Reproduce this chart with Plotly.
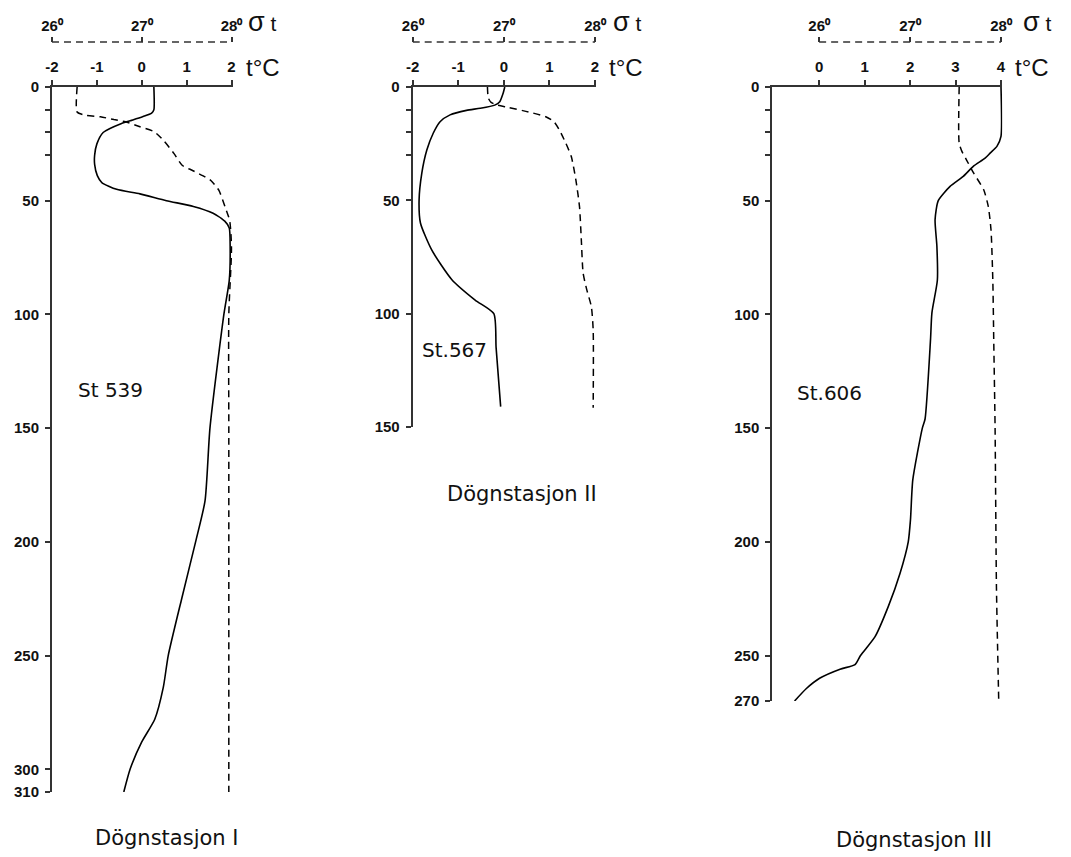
import plotly.graph_objects as go

# The page puts the figure 8 px in from the top-left corner, so the figure is
# 8 px smaller than the window and all pixel positions below are shifted by 8.
OFF = 8
W, H = 1071 - OFF, 857 - OFF

# ---------------- data ----------------
# Station 539 (Døgnstasjon I)
depth_539_t = [0, 10, 11.5, 13, 14.5, 16, 20, 25, 30, 34, 39, 42, 45, 47, 50, 52.5, 55.5, 59, 62, 70, 85, 100, 150, 182, 200, 225, 250, 264, 278, 288, 300, 310]
temp_539 = [0.27, 0.27, 0.22, 0.03, -0.2, -0.45, -0.86, -1.0, -1.05, -1.05, -0.99, -0.89, -0.56, -0.04, 0.55, 1.15, 1.59, 1.85, 1.95, 1.97, 1.95, 1.83, 1.52, 1.41, 1.2, 0.89, 0.59, 0.48, 0.29, 0.0, -0.26, -0.4]
depth_539_s = [0, 11, 12.4, 13.1, 14.3, 15.3, 17.5, 19.7, 23.4, 29.3, 34.4, 36.6, 39.6, 41.1, 45.5, 52.9, 58.8, 70.6, 100, 150, 200, 250, 310]
sigma_539 = [26.28, 26.28, 26.37, 26.54, 26.69, 26.82, 26.98, 27.14, 27.24, 27.36, 27.45, 27.56, 27.71, 27.77, 27.86, 27.93, 27.98, 28.0, 27.97, 27.97, 27.97, 27.97, 27.97]

# Station 567 (Døgnstasjon II)
depth_567_t = [0, 3, 6.5, 8, 9.4, 10.3, 12.3, 15.3, 20.4, 27.8, 38, 50, 60, 72, 85, 94, 100, 115, 141]
temp_567 = [0.02, -0.02, -0.09, -0.2, -0.52, -0.82, -1.18, -1.4, -1.55, -1.69, -1.80, -1.86, -1.83, -1.58, -1.14, -0.63, -0.22, -0.17, -0.07]
depth_567_s = [0, 4.9, 6.8, 7.9, 9.0, 11.0, 13.1, 15.3, 19.0, 24.8, 30.7, 41.0, 52.8, 67.5, 82.2, 89.5, 96.9, 107.2, 141.5]
sigma_567 = [26.82, 26.83, 26.86, 26.92, 27.05, 27.27, 27.46, 27.55, 27.61, 27.68, 27.74, 27.79, 27.83, 27.85, 27.87, 27.91, 27.96, 27.98, 27.98]

# Station 606 (Døgnstasjon III)
depth_606_t = [0, 21.7, 26.1, 29.1, 31.3, 34.9, 39.3, 43.7, 50, 58.4, 70, 85, 99.4, 111, 146, 150, 172.8, 190, 200, 213.8, 228.5, 241.7, 250, 254, 256, 260, 264.5, 270]
temp_606 = [4.0, 4.0, 3.91, 3.76, 3.65, 3.39, 3.17, 2.88, 2.62, 2.55, 2.59, 2.6, 2.48, 2.45, 2.33, 2.27, 2.06, 2.01, 1.96, 1.78, 1.52, 1.23, 0.91, 0.79, 0.46, 0.01, -0.28, -0.54]
depth_606_s = [0, 24.7, 28.3, 32, 37.9, 45.2, 52.5, 62.8, 85, 111, 150, 220, 270]
sigma_606 = [27.54, 27.54, 27.57, 27.62, 27.70, 27.81, 27.86, 27.89, 27.91, 27.92, 27.935, 27.95, 27.975]

t_ticks_a = [-2, -1, 0, 1, 2]
t_ticks_c = [0, 1, 2, 3, 4]
sigma_ticks = [26, 27, 28]
sigma_ticktext = ["26⁰", "27⁰", "28⁰"]
depth_ticks_1 = [0, 10, 20, 30, 50, 100, 150, 200, 250, 300, 310]
depth_ticks_2 = [0, 10, 20, 30, 50, 100, 150]
depth_ticks_3 = [0, 10, 20, 30, 50, 100, 150, 200, 250, 270]
minor_depths = [10, 20, 30]

station_labels = ["St 539", "St.567", "St.606"]
panel_titles = ["Dögnstasjon I", "Dögnstasjon II", "Dögnstasjon III"]

# ---------------- layout geometry (screen pixels) ----------------
def px_x(p):
    return (p - OFF) / W

def px_y(p):
    return 1 - (p - OFF) / H

AX_TOP = 87
SIG_Y = 42
EXT = 0.03  # small extension on the right so edge lines are not clipped
panels = [
    dict(x0=52, x1=231.5, ybot=792, trange=[-2, 2], srange=[26, 28], drange=[310, 0], tticks=t_ticks_a, dticks=depth_ticks_1, sig_dx=14),
    dict(x0=412.7, x1=595, ybot=427, trange=[-2, 2], srange=[26, 28], drange=[150, 0], tticks=t_ticks_a, dticks=depth_ticks_2, sig_dx=16),
    dict(x0=772.3, x1=1001, ybot=701, trange=[-1.03, 4], srange=[25.485, 28], drange=[270, 0], tticks=t_ticks_c, dticks=depth_ticks_3, sig_dx=20),
]

fig = go.Figure()

LINE = dict(color="black", width=1.6)
DASH = dict(color="black", width=1.5, dash="7px,5px")

data_t = [(depth_539_t, temp_539), (depth_567_t, temp_567), (depth_606_t, temp_606)]
data_s = [(depth_539_s, sigma_539), (depth_567_s, sigma_567), (depth_606_s, sigma_606)]

tick_font = dict(family="Liberation Sans", size=15, color="#111", weight="bold")
ytick_font = dict(family="Liberation Sans", size=15, color="#111", weight="bold")

layout = dict(width=W, height=H, margin=dict(l=0, r=0, t=0, b=0, autoexpand=False),
              paper_bgcolor="white", plot_bgcolor="rgba(0,0,0,0)", showlegend=False)

shapes = []
annotations = []

for i, p in enumerate(panels):
    n = i + 1
    xa = "x" if n == 1 else f"x{n}"
    ya = "y" if n == 1 else f"y{n}"
    sa_num = n + 3
    sa = f"x{sa_num}"
    d_t, v_t = data_t[i]
    d_s, v_s = data_s[i]
    fig.add_trace(go.Scatter(x=v_t, y=d_t, mode="lines", line=dict(**LINE, shape="spline", smoothing=0.6),
                             xaxis=xa, yaxis=ya, hoverinfo="skip"))
    fig.add_trace(go.Scatter(x=v_s, y=d_s, mode="lines", line=dict(**DASH, shape="spline", smoothing=0.6),
                             xaxis=sa, yaxis=ya, hoverinfo="skip"))

    tspan = p["trange"][1] - p["trange"][0]
    pxu = (p["x1"] - p["x0"]) / tspan
    x1e = p["x1"] + EXT * pxu
    sspan = p["srange"][1] - p["srange"][0]
    layout[f"xaxis{'' if n == 1 else n}"] = dict(
        domain=[px_x(p["x0"]), px_x(x1e)], range=[p["trange"][0], p["trange"][1] + EXT], anchor=ya, side="top",
        showline=True, linewidth=2, linecolor="#333", showgrid=False, zeroline=False,
        ticks="outside", ticklen=5, tickwidth=2, tickcolor="#333",
        tickvals=p["tticks"], ticktext=[str(v) for v in p["tticks"]], tickfont=tick_font,
        ticklabelstandoff=2, automargin=False, fixedrange=True)
    layout[f"yaxis{'' if n == 1 else n}"] = dict(
        domain=[px_y(p["ybot"]), px_y(AX_TOP)], range=p["drange"], anchor=xa,
        showline=True, linewidth=2, linecolor="#333", showgrid=False, zeroline=False,
        ticks="outside", ticklen=5, tickwidth=2, tickcolor="#333",
        tickvals=p["dticks"], ticktext=["" if v in minor_depths else str(v) for v in p["dticks"]],
        tickfont=ytick_font, ticklabelstandoff=3, automargin=False, fixedrange=True)
    layout[f"xaxis{sa_num}"] = dict(
        overlaying=xa, anchor="free", position=px_y(SIG_Y), side="top",
        range=[p["srange"][0], p["srange"][1] + EXT * sspan / tspan],
        showline=False, showgrid=False, zeroline=False,
        ticks="outside", ticklen=5, tickwidth=1.5, tickcolor="#333",
        tickvals=sigma_ticks, ticktext=sigma_ticktext, tickfont=tick_font,
        ticklabelstandoff=0, automargin=False, fixedrange=True)
    shapes.append(dict(type="line", xref=sa, yref="paper", x0=26, x1=28, y0=px_y(SIG_Y), y1=px_y(SIG_Y),
                       line=dict(color="#333", width=1.5, dash="7px,5px")))

    # unit labels
    annotations.append(dict(xref="paper", yref="paper", x=px_x(p["x1"] + 12), y=px_y(67), xanchor="left", yanchor="middle",
                            text="t°C", showarrow=False, font=dict(family="Liberation Sans", size=24, color="#111")))
    annotations.append(dict(xref="paper", yref="paper", x=px_x(p["x1"] + p["sig_dx"]), y=px_y(22), xanchor="left", yanchor="middle",
                            text="<span style='font-size:27px'>σ</span> t", showarrow=False,
                            font=dict(family="Liberation Sans", size=21, color="#111")))

label_pos = [(110, 390), (454, 350), (829, 393)]
title_pos = [(167, 838), (522, 494), (914, 840)]
for txt, (x, y) in zip(station_labels, label_pos):
    annotations.append(dict(xref="paper", yref="paper", x=px_x(x), y=px_y(y), text=txt, showarrow=False,
                            xanchor="center", yanchor="middle", font=dict(family="DejaVu Sans", size=20, color="#111")))
for txt, (x, y) in zip(panel_titles, title_pos):
    annotations.append(dict(xref="paper", yref="paper", x=px_x(x), y=px_y(y), text=txt, showarrow=False,
                            xanchor="center", yanchor="middle", font=dict(family="DejaVu Sans", size=21, color="#111")))

layout["shapes"] = shapes
layout["annotations"] = annotations
fig.update_layout(**layout)
fig.write_html("out.html")
